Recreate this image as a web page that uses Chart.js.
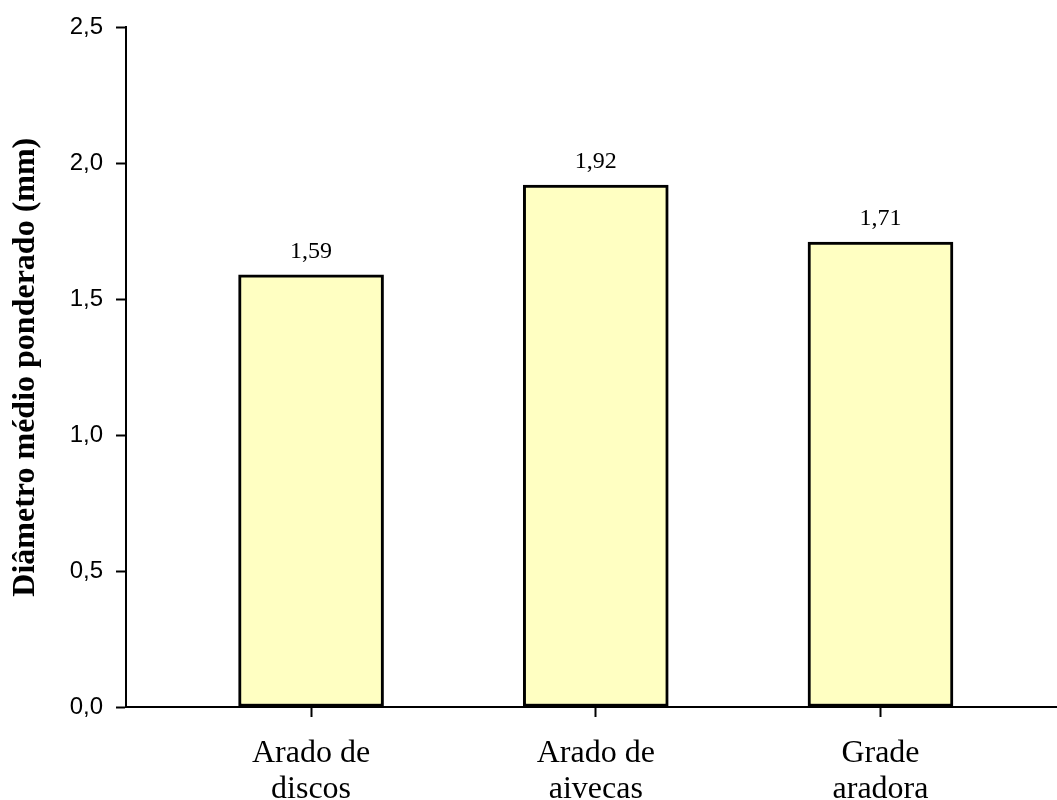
<!DOCTYPE html>
<html>
<head>
<meta charset="utf-8">
<script src="https://cdn.jsdelivr.net/npm/chart.js@4/dist/chart.umd.min.js"></script>
<style>
  html, body { margin: 0; padding: 0; background: #ffffff; }
  #wrap { width: 1057px; height: 800px; position: relative; }
</style>
</head>
<body>
<div id="wrap"><canvas id="c" width="1057" height="800"></canvas></div>
<script>
// Tillage implements and mean weighted diameter of aggregates (mm)
const categories = ["Arado de discos", "Arado de aivecas", "Grade aradora"];
const categoryLines = [["Arado de", "discos"], ["Arado de", "aivecas"], ["Grade", "aradora"]];
const diameters = [1.59, 1.92, 1.71];
const yTicks = [0, 0.5, 1.0, 1.5, 2.0, 2.5];
const yTitle = "Diâmetro médio ponderado (mm)";

const serif = "'Liberation Serif', 'Times New Roman', serif";
const sans = "'Liberation Sans', Arial, sans-serif";

const comma = (v, d) => v.toFixed(d).replace('.', ',');

// Writes each bar's value just above it
const valueLabels = {
  id: 'valueLabels',
  afterDatasetsDraw(chart) {
    const ctx = chart.ctx;
    const meta = chart.getDatasetMeta(0);
    ctx.save();
    ctx.font = "24px " + serif;
    ctx.fillStyle = "#000";
    ctx.textAlign = "center";
    ctx.textBaseline = "alphabetic";
    meta.data.forEach((bar, i) => {
      ctx.fillText(comma(diameters[i], 2), bar.x, bar.y - 17);
    });
    ctx.restore();
  }
};

new Chart(document.getElementById('c'), {
  type: 'bar',
  data: {
    datasets: [{
      data: diameters.map((v, i) => ({ x: i + 1, y: v })),
      backgroundColor: '#ffffc2',
      borderColor: '#000000',
      borderWidth: 3,
      borderSkipped: false,
      barThickness: 145
    }]
  },
  options: {
    responsive: false,
    animation: false,
    devicePixelRatio: 1,
    layout: { padding: { left: 0, top: 27, right: 0, bottom: 0 } },
    plugins: { legend: { display: false }, tooltip: { enabled: false } },
    scales: {
      x: {
        type: 'linear',
        offset: false,
        min: 0.35,
        max: 3.62,
        afterBuildTicks(scale) {
          scale.ticks = categories.map((c, i) => ({ value: i + 1 }));
        },
        afterFit(scale) { scale.height = 93; },
        grid: {
          offset: false,
          drawOnChartArea: false,
          drawTicks: true,
          tickLength: 10,
          tickColor: '#000',
          tickWidth: 2
        },
        border: { display: true, color: '#000', width: 2 },
        ticks: {
          autoSkip: false,
          maxRotation: 0,
          padding: 19,
          color: '#000',
          font: { family: serif, size: 32, lineHeight: 1.12 },
          callback: (v) => categoryLines[v - 1]
        }
      },
      y: {
        min: 0,
        max: 2.5,
        afterBuildTicks(scale) {
          scale.ticks = yTicks.map(v => ({ value: v }));
        },
        afterFit(scale) { scale.width = 126; },
        grid: {
          drawOnChartArea: false,
          drawTicks: true,
          tickLength: 10,
          tickColor: '#000',
          tickWidth: 2
        },
        border: { display: true, color: '#000', width: 2 },
        ticks: {
          padding: 13,
          color: '#000',
          font: { family: sans, size: 24 },
          callback: (v) => comma(v, 1)
        },
        title: {
          display: true,
          text: yTitle,
          color: '#000',
          font: { family: serif, size: 32, weight: 'bold' },
          padding: { top: 7, bottom: 0 }
        }
      }
    }
  },
  plugins: [valueLabels]
});
</script>
</body>
</html>
